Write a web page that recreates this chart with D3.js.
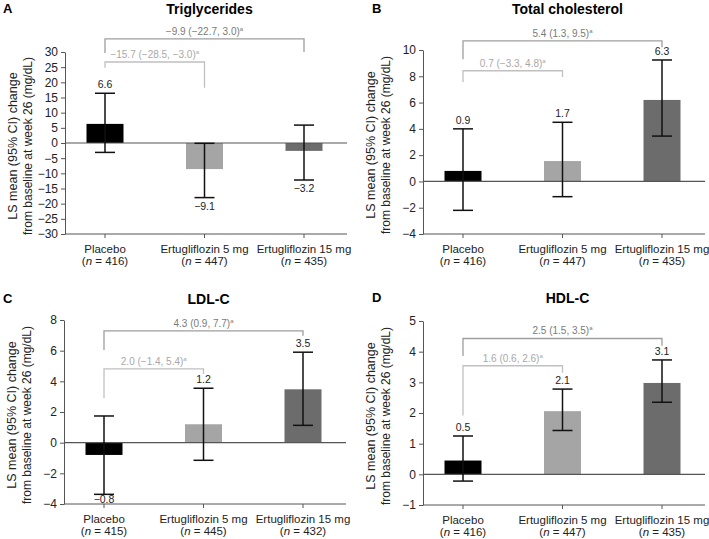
<!DOCTYPE html>
<html><head><meta charset="utf-8">
<script src="https://cdn.jsdelivr.net/npm/d3@7"></script>
<style>body{margin:0;background:#fff}svg{display:block;font-family:"Liberation Sans",Arial,sans-serif}</style>
</head><body>
<svg id="c" width="709" height="539"></svg>
<script>
const categories = ["Placebo", "Ertugliflozin 5 mg", "Ertugliflozin 15 mg"];
const barColors = ["#000000", "#a5a5a5", "#6c6c6c"];
const panelLetters = ["A", "B", "C", "D"];
const panelTitles = ["Triglycerides", "Total cholesterol", "LDL-C", "HDL-C"];
const nA = [416, 447, 435], nB = [416, 447, 435], nC = [415, 445, 432], nD = [416, 447, 435];
const yDomains = [[-30, 30], [-4, 10], [-4, 8], [-1, 5]];
const yTicks = [
  [-30, -25, -20, -15, -10, -5, 0, 5, 10, 15, 20, 25, 30],
  [-4, -2, 0, 2, 4, 6, 8, 10],
  [-4, -2, 0, 2, 4, 6, 8],
  [-1, 0, 1, 2, 3, 4, 5]
];
// drawn bar heights, CI lower / upper, printed labels
const meanA = [6.3, -8.6, -2.6], lowA = [-3.1, -18.0, -12.2], upA = [16.4, -0.1, 5.9], lblA = ["6.6", "−9.1", "−3.2"];
const meanB = [0.8, 1.55, 6.2], lowB = [-2.2, -1.16, 3.45], upB = [4.0, 4.5, 9.24], lblB = ["0.9", "1.7", "6.3"];
const meanC = [-0.8, 1.2, 3.48], lowC = [-3.37, -1.15, 1.13], upC = [1.74, 3.55, 5.9], lblC = ["−0.8", "1.2", "3.5"];
const meanD = [0.45, 2.06, 2.98], lowD = [-0.22, 1.43, 2.35], upD = [1.25, 2.78, 3.73], lblD = ["0.5", "2.1", "3.1"];
// comparison brackets: [inner (5 mg vs placebo), outer (15 mg vs placebo)]
const cmpTextA = ["−15.7 (−28.5, −3.0)", "−9.9 (−22.7, 3.0)"];
const cmpTextB = ["0.7 (−3.3, 4.8)", "5.4 (1.3, 9.5)"];
const cmpTextC = ["2.0 (−1.4, 5.4)", "4.3 (0.9, 7.7)"];
const cmpTextD = ["1.6 (0.6, 2.6)", "2.5 (1.5, 3.5)"];
// bracket levels in data units: [line, left leg end, right leg end]
const brkA = [[26.7, 24.8, 18.2], [34.3, 29.7, 30.0]];
const brkB = [[8.42, 7.56, 7.95], [10.7, 9.3, 10.2]];
const brkC = [[4.81, 2.92, 4.48], [7.29, 6.05, 6.98]];
const brkD = [[3.54, 1.92, 3.31], [4.43, 3.86, 4.19]];

const panels = [
  {x0: 65, top: 52, bottom: 234, lx: 3, ty: 13, mean: meanA, low: lowA, up: upA, lbl: lblA, n: nA, cmp: cmpTextA, brk: brkA},
  {x0: 423, top: 50, bottom: 234, lx: 372, ty: 13, mean: meanB, low: lowB, up: upB, lbl: lblB, n: nB, cmp: cmpTextB, brk: brkB},
  {x0: 64, top: 320, bottom: 504, lx: 3, ty: 303, mean: meanC, low: lowC, up: upC, lbl: lblC, n: nC, cmp: cmpTextC, brk: brkC},
  {x0: 423, top: 321, bottom: 505, lx: 372, ty: 302, mean: meanD, low: lowD, up: upD, lbl: lblD, n: nD, cmp: cmpTextD, brk: brkD}
];

const svg = d3.select("#c");
const axisCol = "#555";
const cmpLine = ["#c0c0c0", "#9e9e9e"];
const cmpTxt = ["#a8a8a8", "#7a7a7a"];

panels.forEach((p, i) => {
  const g = svg.append("g");
  const y = d3.scaleLinear().domain(yDomains[i]).range([p.bottom, p.top]);
  const x = d3.scalePoint().domain(categories).range([p.x0 + 40, p.x0 + 239]);
  const right = p.x0 + 282;
  const bw = 37, cap = 20;

  // panel letter and title
  g.append("text").attr("x", p.lx).attr("y", p.ty).attr("font-size", 13).attr("font-weight", "bold").text(panelLetters[i]);
  g.append("text").attr("x", x(categories[1]) + 5).attr("y", p.ty + 1).attr("font-size", 14).attr("font-weight", "bold").attr("text-anchor", "middle").text(panelTitles[i]);

  // y axis label
  const cy = (p.top + p.bottom) / 2 + 3;
  const yl = g.append("text").attr("transform", `translate(${p.x0 - 48},${cy}) rotate(-90)`).attr("font-size", 12.5).attr("text-anchor", "middle").attr("fill", "#222");
  yl.append("tspan").attr("x", 0).attr("dy", 0).text("LS mean (95% CI) change");
  yl.append("tspan").attr("x", 0).attr("dy", 14.5).attr("font-size", 12).text("from baseline at week 26 (mg/dL)");

  // y axis
  const ya = g.append("g").attr("transform", `translate(${p.x0},0)`).call(d3.axisLeft(y).tickValues(yTicks[i]).tickSize(4).tickSizeOuter(0).tickFormat(d => d < 0 ? "−" + Math.abs(d) : d));
  ya.select(".domain").attr("stroke", axisCol);
  ya.selectAll(".tick line").attr("stroke", axisCol);
  ya.selectAll(".tick text").attr("font-size", 12).attr("fill", "#222").attr("font-family", "Liberation Sans, Arial, sans-serif");

  // x axis (bottom)
  const xa = g.append("g").attr("transform", `translate(0,${p.bottom})`);
  xa.append("line").attr("x1", p.x0).attr("x2", right).attr("stroke", axisCol);
  categories.forEach((c, k) => {
    xa.append("line").attr("x1", x(c)).attr("x2", x(c)).attr("y1", 0).attr("y2", 4).attr("stroke", axisCol);
    xa.append("text").attr("x", x(c)).attr("y", 19).attr("font-size", 11.5).attr("text-anchor", "middle").attr("fill", "#222").text(c);
    const t2 = xa.append("text").attr("x", x(c)).attr("y", 31).attr("font-size", 11.5).attr("text-anchor", "middle").attr("fill", "#222");
    t2.append("tspan").text("(");
    t2.append("tspan").attr("font-style", "italic").text("n");
    t2.append("tspan").text(" = " + p.n[k] + ")");
  });

  // bars
  categories.forEach((c, k) => {
    const v = p.mean[k];
    g.append("rect").attr("x", x(c) - bw / 2).attr("width", bw)
      .attr("y", Math.min(y(v), y(0))).attr("height", Math.abs(y(v) - y(0)))
      .attr("fill", barColors[k]);
  });

  // zero line
  g.append("line").attr("x1", p.x0).attr("x2", right).attr("y1", y(0)).attr("y2", y(0)).attr("stroke", axisCol).attr("stroke-width", 1.2);

  // error bars
  categories.forEach((c, k) => {
    const cx = x(c);
    g.append("line").attr("x1", cx).attr("x2", cx).attr("y1", y(p.low[k])).attr("y2", y(p.up[k])).attr("stroke", "#111").attr("stroke-width", 1.5);
    [p.low[k], p.up[k]].forEach(v => {
      g.append("line").attr("x1", cx - cap / 2).attr("x2", cx + cap / 2).attr("y1", y(v)).attr("y2", y(v)).attr("stroke", "#111").attr("stroke-width", 1.5);
    });
    const pos = p.mean[k] >= 0;
    g.append("text").attr("x", cx).attr("y", pos ? y(p.up[k]) - 5 : Math.min(y(p.low[k]) + 12, p.bottom - 1))
      .attr("font-size", 10.5).attr("text-anchor", "middle").attr("fill", "#222").text(p.lbl[k]);
  });

  // comparison brackets
  [0, 1].forEach(j => {
    const b = p.brk[j];
    const xl = x(categories[0]), xr = x(categories[j + 1]);
    const path = d3.path();
    path.moveTo(xl, y(b[1])); path.lineTo(xl, y(b[0])); path.lineTo(xr, y(b[0])); path.lineTo(xr, y(b[2]));
    g.append("path").attr("d", path.toString()).attr("fill", "none").attr("stroke", cmpLine[j]).attr("stroke-width", 1.3);
    const t = g.append("text").attr("x", (xl + xr) / 2).attr("y", y(b[0]) - 4).attr("font-size", 10).attr("text-anchor", "middle").attr("fill", cmpTxt[j]);
    t.append("tspan").text(p.cmp[j]);
    t.append("tspan").attr("font-size", 6).attr("dy", -4).text("a");
  });
});
</script>
</body></html>
